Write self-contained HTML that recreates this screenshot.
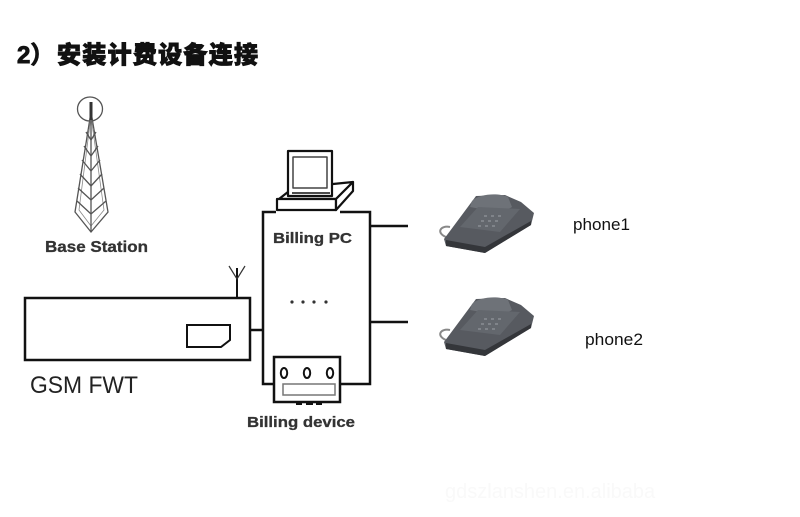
<!DOCTYPE html>
<html><head><meta charset="utf-8"><style>
html,body{margin:0;padding:0;background:#fff;}
svg{display:block;}
</style></head><body>
<svg width="800" height="517" viewBox="0 0 800 517" xmlns="http://www.w3.org/2000/svg">
<rect width="800" height="517" fill="#fff"/>
<!-- faint watermark -->
<text x="445" y="498" font-family="Liberation Sans, sans-serif" font-size="20" fill="#f9f9f9">gdszlanshen.en.alibaba</text>

<!-- title -->
<text x="17" y="63" font-family="Liberation Sans, 'Noto Sans CJK SC', sans-serif" font-size="24" font-weight="bold" fill="#111" stroke="#111" stroke-width="0.9">2）</text>
<text x="57" y="63" font-family="Liberation Sans, 'Noto Sans CJK SC', sans-serif" font-size="24" font-weight="900" fill="#111" stroke="#111" stroke-width="0.9" textLength="201" lengthAdjust="spacing">安装计费设备连接</text>

<!-- tower -->
<g fill="none" stroke="#555" stroke-width="1.3">
  <ellipse cx="90" cy="109" rx="12.5" ry="12"/>
  <path d="M91,112 L75,212 L91,232 L108,212 Z"/>
  <path d="M91,116 L79,210 L91,226 L104,210 Z" stroke="#888" stroke-width="0.8"/>
  <path d="M91,112 V232"/>
  <path d="M86,132 L91,140 L96,132 M84,146 L91,156 L98,146 M82,160 L91,171 L100,160 M80,174 L91,186 L102,174 M78,188 L91,200 L104,188 M77,201 L91,214 L106,201"/>
</g>
<line x1="91" y1="102" x2="91" y2="120" stroke="#333" stroke-width="3"/>
<text x="45" y="252" font-family="Liberation Sans, sans-serif" font-size="16" font-weight="bold" fill="#333" stroke="#333" stroke-width="0.3" textLength="103" lengthAdjust="spacingAndGlyphs">Base Station</text>

<!-- GSM FWT -->
<g fill="none" stroke="#111" stroke-width="2.5">
  <rect x="25" y="298" width="225" height="62"/>
  <polygon points="187,325 230,325 230,340 221,347 187,347" stroke-width="2"/>
  <line x1="237" y1="298" x2="237" y2="268" stroke-width="2"/>
  <polyline points="229,266 237,279 245,266" stroke-width="1.2" stroke="#333"/>
</g>
<text x="30" y="393" font-family="Liberation Sans, sans-serif" font-size="24" fill="#222" textLength="108" lengthAdjust="spacingAndGlyphs">GSM FWT</text>

<!-- connectors -->
<g fill="none" stroke="#111" stroke-width="2.5">
  <path d="M250,330 H263"/>
  <path d="M276,212 H263 V384 H274"/>
  <path d="M340,212 H370 V384 H340"/>
  <path d="M370,226 H408"/>
  <path d="M370,322 H408"/>
</g>

<!-- Billing PC -->
<g stroke="#111" stroke-width="2.2" fill="#fff" stroke-linejoin="round">
  <polygon points="279,199 293,188 353,182 336,199"/>
  <rect x="277" y="199" width="59" height="11"/>
  <polygon points="336,199 353,182 353,191 336,210"/>
  <rect x="288" y="151" width="44" height="45"/>
  <rect x="293" y="157" width="34" height="31" stroke-width="1.5" stroke="#444"/>
  <line x1="292" y1="193" x2="330" y2="193" stroke-width="1.5"/>
</g>
<text x="273" y="243" font-family="Liberation Sans, sans-serif" font-size="15" font-weight="bold" fill="#333" stroke="#333" stroke-width="0.3" textLength="79" lengthAdjust="spacingAndGlyphs">Billing PC</text>

<!-- dots -->
<g fill="#333">
  <circle cx="292" cy="302" r="1.6"/><circle cx="303" cy="302" r="1.6"/>
  <circle cx="314" cy="302" r="1.6"/><circle cx="326" cy="302" r="1.6"/>
</g>

<!-- Billing device -->
<g fill="none" stroke="#111" stroke-width="2.5">
  <rect x="274" y="357" width="66" height="45"/>
  <ellipse cx="284" cy="373" rx="3.2" ry="5" stroke-width="2"/>
  <ellipse cx="307" cy="373" rx="3.2" ry="5" stroke-width="2"/>
  <ellipse cx="330" cy="373" rx="3.2" ry="5" stroke-width="2"/>
  <rect x="283" y="384" width="52" height="11" stroke-width="1.5" stroke="#777"/>
  <path d="M296,404 H302 M306,404 H313 M316,404 H322" stroke-width="2"/>
</g>
<text x="247" y="427" font-family="Liberation Sans, sans-serif" font-size="15" font-weight="bold" fill="#333" stroke="#333" stroke-width="0.3" textLength="108" lengthAdjust="spacingAndGlyphs">Billing device</text>

<!-- phones -->
<defs>
  <g id="phone">
    <path d="M446,340 C436,336 440,328 450,330" fill="none" stroke="#888" stroke-width="2"/>
    <polygon points="450,334 476,299 505,298 521,305 534,316 531,328 485,356 446,349 444,342" fill="#575a60"/>
    <polygon points="446,343 485,350 531,324 531,328 485,356 446,349" fill="#34363a"/>
    <path d="M472,304 C480,296 500,296 508,300 L512,310 C505,314 498,316 492,314 L470,310 Z" fill="#6e7278"/>
    <polygon points="460,330 478,310 520,312 500,335" fill="#63676d"/>
    <g fill="#80848a">
      <rect x="484" y="318" width="3" height="2"/><rect x="491" y="318" width="3" height="2"/><rect x="498" y="318" width="3" height="2"/>
      <rect x="481" y="323" width="3" height="2"/><rect x="488" y="323" width="3" height="2"/><rect x="495" y="323" width="3" height="2"/>
      <rect x="478" y="328" width="3" height="2"/><rect x="485" y="328" width="3" height="2"/><rect x="492" y="328" width="3" height="2"/>
    </g>
  </g>
</defs>
<use href="#phone" transform="translate(0,-103)"/>
<use href="#phone"/>

<text x="573" y="230" font-family="Liberation Sans, sans-serif" font-size="17" fill="#111" textLength="57" lengthAdjust="spacingAndGlyphs">phone1</text>
<text x="585" y="345" font-family="Liberation Sans, sans-serif" font-size="17" fill="#111" textLength="58" lengthAdjust="spacingAndGlyphs">phone2</text>
</svg>
</body></html>
